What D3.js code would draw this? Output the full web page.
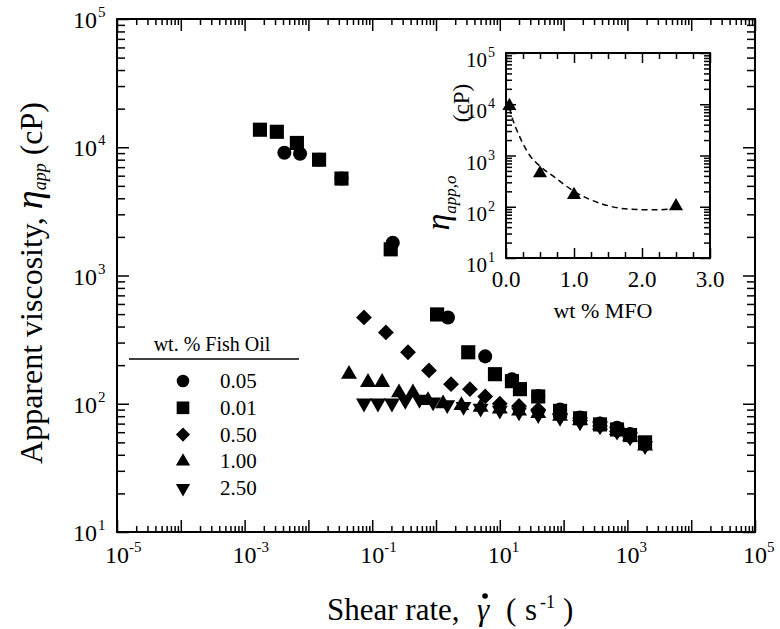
<!DOCTYPE html>
<html>
<head>
<meta charset="utf-8">
<script src="https://cdn.jsdelivr.net/npm/d3@7"></script>
<style>
body { margin: 0; background: #fff; }
</style>
</head>
<body>
<div id="container"></div>
<script>
let w = 780;
let h = 629;

// main plot data (shear rate 1/s, viscosity cP)
let rate005 = [0.0042, 0.0074, 0.0147, 0.033, 0.21, 1.54, 5.9, 15.5, 40, 88, 181, 372, 687, 1100, 1890];
let visc005 = [9060, 8900, 8000, 5700, 1800, 471, 234, 155, 115, 90, 78, 70, 65, 58, 48];

let rate001 = [0.00174, 0.0032, 0.0066, 0.0147, 0.033, 0.195, 1.04, 3.2, 8.4, 15.5, 20.7, 40, 88, 181, 372, 687, 1100, 1890];
let visc001 = [13700, 13200, 10800, 8000, 5700, 1600, 497, 252, 170, 150, 130, 114, 88, 77, 69, 63, 57, 50];

let rate050 = [0.0743, 0.164, 0.364, 0.776, 1.72, 3.4, 5.9, 10, 20, 40, 88, 181, 372, 687, 1100];
let visc050 = [471, 360, 252, 182, 142, 130, 114, 100, 96, 90, 82, 74, 67, 61, 55];

let rate100 = [0.0433, 0.0859, 0.143, 0.263, 0.435, 0.75, 1.29, 2.5, 5, 10, 20, 40, 88, 181, 372, 687, 1100, 1890];
let visc100 = [170, 147, 147, 122, 122, 106, 100, 97, 94, 91, 88, 84, 80, 74, 68, 62, 56, 47];

let rate250 = [0.0743, 0.123, 0.204, 0.33, 0.55, 0.9, 1.5, 2.7, 5, 10, 20, 40, 88, 181, 372, 687, 1100, 1890];
let visc250 = [101, 101, 101, 106, 108, 103, 98, 95, 92, 89, 86, 82, 78, 72, 67, 61, 55, 47];

let legendLabels = ["0.05", "0.01", "0.50", "1.00", "2.50"];

// inset: zero-shear viscosity vs wt % MFO
let mfo = [0.05, 0.5, 1.0, 2.5];
let eta0 = [9300, 450, 170, 103];
let fitMfo = [0.05, 0.1, 0.16, 0.25, 0.35, 0.5, 0.7, 1.0, 1.4, 1.8, 2.2, 2.45];
let fitEta = [8500, 5000, 3100, 1700, 1000, 620, 390, 200, 115, 90, 87, 92];

let insetXTicks = [0, 1, 2, 3];
let decadesX = [-5, -4, -3, -2, -1, 0, 1, 2, 3, 4, 5];
let labelsX = [-5, -3, -1, 1, 3, 5];
let decadesY = [1, 2, 3, 4, 5];

let serif = "'Liberation Serif', 'Times New Roman', serif";

let viz = d3.select("#container").append("svg")
  .attr("width", w)
  .attr("height", h)
  .attr("font-family", serif)
  .style("background-color", "white");

let L = 117, R = 755, T = 19, B = 532;
let x = d3.scaleLog().domain([1e-5, 1e5]).range([L, R]);
let y = d3.scaleLog().domain([10, 1e5]).range([B, T]);

// 2..9 x 10^d for every decade except the last
function minorTicks(decades) {
  let out = [];
  decades.slice(0, -1).forEach(function(d) {
    for (let k = 2; k <= 9; k++) out.push(k * Math.pow(10, d));
  });
  return out;
}

function tickStyle(g) {
  g.select(".domain").remove();
  g.selectAll("line").attr("stroke", "black").attr("stroke-width", 1.5);
}

let xMajor = decadesX.map(d => Math.pow(10, d));
let xMinor = minorTicks(decadesX);
let yMajor = decadesY.map(d => Math.pow(10, d));
let yMinor = minorTicks(decadesY);

// main ticks, all inward
viz.append("g").attr("transform", `translate(0,${B})`).call(d3.axisBottom(x).tickValues(xMajor).tickSize(-12).tickFormat("")).call(tickStyle);
viz.append("g").attr("transform", `translate(0,${B})`).call(d3.axisBottom(x).tickValues(xMinor).tickSize(-6).tickFormat("")).call(tickStyle);
viz.append("g").attr("transform", `translate(0,${T})`).call(d3.axisTop(x).tickValues(xMajor).tickSize(-12).tickFormat("")).call(tickStyle);
viz.append("g").attr("transform", `translate(0,${T})`).call(d3.axisTop(x).tickValues(xMinor).tickSize(-6).tickFormat("")).call(tickStyle);
viz.append("g").attr("transform", `translate(${L},0)`).call(d3.axisLeft(y).tickValues(yMajor).tickSize(-12).tickFormat("")).call(tickStyle);
viz.append("g").attr("transform", `translate(${L},0)`).call(d3.axisLeft(y).tickValues(yMinor).tickSize(-8).tickFormat("")).call(tickStyle);
viz.append("g").attr("transform", `translate(${R},0)`).call(d3.axisRight(y).tickValues(yMajor).tickSize(-12).tickFormat("")).call(tickStyle);
viz.append("g").attr("transform", `translate(${R},0)`).call(d3.axisRight(y).tickValues(yMinor).tickSize(-8).tickFormat("")).call(tickStyle);

viz.append("rect").attr("x", L).attr("y", T).attr("width", R - L).attr("height", B - T)
  .attr("fill", "none").attr("stroke", "black").attr("stroke-width", 2);

// tick labels 10^n
let xl = viz.selectAll(".xlab").data(labelsX).enter().append("g").attr("class", "xlab");
xl.append("text").attr("x", d => x(Math.pow(10, d))).attr("y", 563).attr("text-anchor", "middle")
  .style("font-size", "24px").text("10");
xl.append("text").attr("x", d => x(Math.pow(10, d)) + 12).attr("y", 552)
  .style("font-size", "15px").text(d => d);

let yl = viz.selectAll(".ylab").data(decadesY).enter().append("g").attr("class", "ylab");
yl.append("text").attr("x", 97).attr("y", d => y(Math.pow(10, d)) + 9).attr("text-anchor", "end")
  .style("font-size", "24px").text("10");
yl.append("text").attr("x", 98).attr("y", d => y(Math.pow(10, d)) - 2)
  .style("font-size", "15px").text(d => d);

// axis titles
let xt = viz.append("text").attr("y", 620).style("font-size", "31px");
xt.append("tspan").attr("x", 327).text("Shear rate,");
let gam = xt.append("tspan").attr("x", 477).style("font-style", "italic").text("γ");
xt.append("tspan").attr("x", 506).text("(");
xt.append("tspan").attr("x", 525).text("s");
xt.append("tspan").attr("x", 540).attr("dy", -12).style("font-size", "18px").text("-1");
xt.append("tspan").attr("x", 563).attr("dy", 12).text(")");
let gb = gam.node().getBBox();
viz.append("circle").attr("cx", gb.x + gb.width * 0.62).attr("cy", gb.y + 4).attr("r", 2.8).attr("fill", "black");

let yt = viz.append("text").attr("transform", "translate(42,283) rotate(-90)").attr("text-anchor", "middle").style("font-size", "32px");
yt.append("tspan").text("Apparent viscosity, ");
yt.append("tspan").style("font-style", "italic").style("font-size", "38px").text("η");
yt.append("tspan").attr("dy", 4).style("font-style", "italic").style("font-size", "18px").text("app");
yt.append("tspan").attr("dy", -4).text("  (cP)");

// data markers
let series = [
  { rate: rate005, visc: visc005, sym: d3.symbolCircle, size: 155, rot: 0 },
  { rate: rate001, visc: visc001, sym: d3.symbolSquare, size: 200, rot: 0 },
  { rate: rate050, visc: visc050, sym: d3.symbolSquare, size: 125, rot: 45 },
  { rate: rate100, visc: visc100, sym: d3.symbolTriangle, size: 110, rot: 0 },
  { rate: rate250, visc: visc250, sym: d3.symbolTriangle, size: 110, rot: 180 }
];

series.forEach(function(s) {
  viz.append("g").selectAll("path").data(s.rate).enter().append("path")
    .attr("d", d3.symbol().type(s.sym).size(s.size))
    .attr("transform", (d, i) => `translate(${x(d)},${y(s.visc[i])}) rotate(${s.rot})`)
    .attr("fill", "black");
});

// legend
viz.append("text").attr("x", 212).attr("y", 351).attr("text-anchor", "middle").style("font-size", "20px").text("wt. % Fish Oil");
viz.append("line").attr("x1", 129).attr("x2", 299).attr("y1", 359).attr("y2", 359).attr("stroke", "black").attr("stroke-width", 1.5);
let lg = viz.selectAll(".leg").data(series).enter().append("g").attr("class", "leg")
  .attr("transform", (d, i) => `translate(183,${381 + i * 26.8})`);
lg.append("path").attr("d", d => d3.symbol().type(d.sym).size(d.size * 0.8)()).attr("transform", d => `rotate(${d.rot})`).attr("fill", "black");
lg.append("text").attr("x", 37).attr("y", 7).style("font-size", "21px").text((d, i) => legendLabels[i]);

// inset
let iL = 506, iR = 710, iT = 53, iB = 258;
let ix = d3.scaleLinear().domain([0, 3]).range([iL, iR]);
let iy = d3.scaleLog().domain([10, 1e5]).range([iB, iT]);
let inset = viz.append("g");
inset.append("rect").attr("x", iL).attr("y", iT).attr("width", iR - iL).attr("height", iB - iT).attr("fill", "white");

let ixMajor = d3.range(0, 3.01, 1);
let ixMinor = d3.range(0.25, 3, 0.25).filter(v => v % 1 != 0);
inset.append("g").attr("transform", `translate(0,${iB})`).call(d3.axisBottom(ix).tickValues(ixMajor).tickSize(-10).tickFormat("")).call(tickStyle);
inset.append("g").attr("transform", `translate(0,${iB})`).call(d3.axisBottom(ix).tickValues(ixMinor).tickSize(-6).tickFormat("")).call(tickStyle);
inset.append("g").attr("transform", `translate(0,${iT})`).call(d3.axisTop(ix).tickValues(ixMajor).tickSize(-10).tickFormat("")).call(tickStyle);
inset.append("g").attr("transform", `translate(0,${iT})`).call(d3.axisTop(ix).tickValues(ixMinor).tickSize(-6).tickFormat("")).call(tickStyle);
inset.append("g").attr("transform", `translate(${iL},0)`).call(d3.axisLeft(iy).tickValues(yMajor).tickSize(-10).tickFormat("")).call(tickStyle);
inset.append("g").attr("transform", `translate(${iL},0)`).call(d3.axisLeft(iy).tickValues(yMinor).tickSize(-6).tickFormat("")).call(tickStyle);
inset.append("g").attr("transform", `translate(${iR},0)`).call(d3.axisRight(iy).tickValues(yMajor).tickSize(-10).tickFormat("")).call(tickStyle);
inset.append("g").attr("transform", `translate(${iR},0)`).call(d3.axisRight(iy).tickValues(yMinor).tickSize(-6).tickFormat("")).call(tickStyle);
inset.append("rect").attr("x", iL).attr("y", iT).attr("width", iR - iL).attr("height", iB - iT)
  .attr("fill", "none").attr("stroke", "black").attr("stroke-width", 2);

inset.selectAll(".ixl").data(insetXTicks).enter().append("text").attr("class", "ixl")
  .attr("x", d => ix(d)).attr("y", 287).attr("text-anchor", "middle").style("font-size", "23px")
  .text(d => d3.format(".1f")(d));
let iyl = inset.selectAll(".iyl").data(decadesY).enter().append("g").attr("class", "iyl");
iyl.append("text").attr("x", 487).attr("y", d => iy(Math.pow(10, d)) + 14).attr("text-anchor", "end")
  .style("font-size", "21px").text("10");
iyl.append("text").attr("x", 488).attr("y", d => iy(Math.pow(10, d)) + 4).style("font-size", "14px").text(d => d);

inset.append("text").attr("x", 603).attr("y", 318).attr("text-anchor", "middle").style("font-size", "22px").text("wt % MFO");

let it = inset.append("text").attr("transform", "translate(449,203) rotate(-90)").attr("text-anchor", "middle");
it.append("tspan").style("font-style", "italic").style("font-size", "34px").text("η");
it.append("tspan").attr("dy", 7).style("font-style", "italic").style("font-size", "17px").text("app,o");
inset.append("text").attr("transform", "translate(469,103) rotate(-90)").attr("text-anchor", "middle").style("font-size", "23px").text("(cP)");

let fitLine = d3.line().x((d, i) => ix(d)).y((d, i) => iy(fitEta[i])).curve(d3.curveMonotoneX);
inset.append("path").attr("d", fitLine(fitMfo)).attr("fill", "none").attr("stroke", "black")
  .attr("stroke-width", 1.5).attr("stroke-dasharray", "6,4");

inset.selectAll(".ipt").data(mfo).enter().append("path").attr("class", "ipt")
  .attr("d", d3.symbol().type(d3.symbolTriangle).size(85))
  .attr("transform", (d, i) => `translate(${ix(d)},${iy(eta0[i])})`)
  .attr("fill", "black");
</script>
</body>
</html>
